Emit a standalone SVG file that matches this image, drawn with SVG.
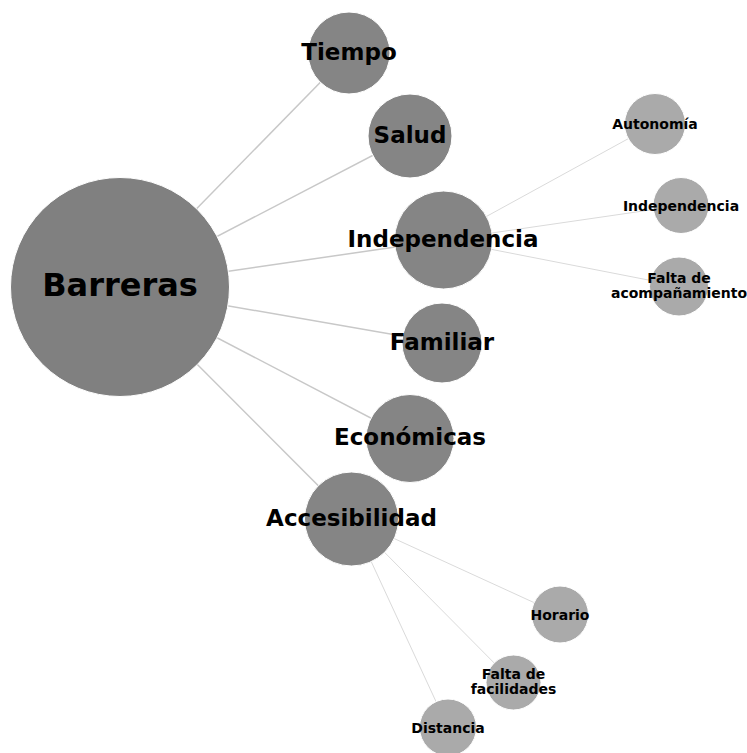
<svg xmlns="http://www.w3.org/2000/svg" width="747" height="753" viewBox="0 0 747 753">
<style>
.e1{stroke:#c8c8c8;stroke-width:1.5;fill:none}
.e2{stroke:#dadada;stroke-width:1;fill:none}
.root{fill:#808080;stroke:#ffffff;stroke-width:1}
.mid{fill:#858585;stroke:#ffffff;stroke-width:1}
.leaf{fill:#aaaaaa;stroke:#ffffff;stroke-width:1}
text{font-family:"DejaVu Sans",Verdana,sans-serif;font-weight:bold;fill:#000;text-anchor:middle}
.t0{font-size:32px}
.t1{font-size:23px}
.t2{font-size:14px}
</style>
<rect width="747" height="753" fill="#ffffff"/>
<g id="connectors">
<line class="e1" x1="120" y1="287" x2="349" y2="53"/>
<line class="e1" x1="120" y1="287" x2="410" y2="136"/>
<line class="e1" x1="120" y1="287" x2="443.5" y2="240"/>
<line class="e1" x1="120" y1="287" x2="442" y2="343"/>
<line class="e1" x1="120" y1="287" x2="410" y2="438.5"/>
<line class="e1" x1="120" y1="287" x2="351.5" y2="519"/>
<line class="e2" x1="443.5" y1="240" x2="655" y2="124"/>
<line class="e2" x1="443.5" y1="240" x2="681" y2="205.5"/>
<line class="e2" x1="443.5" y1="240" x2="679" y2="286"/>
<line class="e2" x1="351.5" y1="519" x2="560" y2="614.5"/>
<line class="e2" x1="351.5" y1="519" x2="513.5" y2="682.5"/>
<line class="e2" x1="351.5" y1="519" x2="448" y2="727.5"/>
</g>
<g id="node-barreras"><circle class="root" cx="120" cy="287" r="109.5"/><text class="t0" x="120" y="296">Barreras</text></g>
<g id="node-tiempo"><circle class="mid" cx="349" cy="53" r="41"/><text class="t1" x="349" y="60">Tiempo</text></g>
<g id="node-salud"><circle class="mid" cx="410" cy="136" r="42"/><text class="t1" x="410" y="143">Salud</text></g>
<g id="node-independencia"><circle class="mid" cx="443.5" cy="240" r="49"/><text class="t1" x="443" y="247">Independencia</text></g>
<g id="node-familiar"><circle class="mid" cx="442" cy="343" r="40"/><text class="t1" x="442" y="350">Familiar</text></g>
<g id="node-economicas"><circle class="mid" cx="410" cy="438.5" r="44"/><text class="t1" x="410" y="445">Económicas</text></g>
<g id="node-accesibilidad"><circle class="mid" cx="351.5" cy="519" r="47"/><text class="t1" x="351.5" y="525.5">Accesibilidad</text></g>
<g id="node-autonomia"><circle class="leaf" cx="655" cy="124" r="30.5"/><text class="t2" x="655" y="129">Autonomía</text></g>
<g id="node-independencia2"><circle class="leaf" cx="681" cy="205.5" r="28"/><text class="t2" x="681" y="210.5">Independencia</text></g>
<g id="node-falta-acomp"><circle class="leaf" cx="679" cy="286.5" r="29.5"/><text class="t2" x="679" y="283">Falta de</text><text class="t2" x="679" y="298">acompañamiento</text></g>
<g id="node-horario"><circle class="leaf" cx="560" cy="614.5" r="28.5"/><text class="t2" x="560" y="619.5">Horario</text></g>
<g id="node-falta-facil"><circle class="leaf" cx="513.5" cy="682.5" r="27.5"/><text class="t2" x="513.5" y="679">Falta de</text><text class="t2" x="513.5" y="694">facilidades</text></g>
<g id="node-distancia"><circle class="leaf" cx="448" cy="727.5" r="28.5"/><text class="t2" x="448" y="732.5">Distancia</text></g>
</svg>
